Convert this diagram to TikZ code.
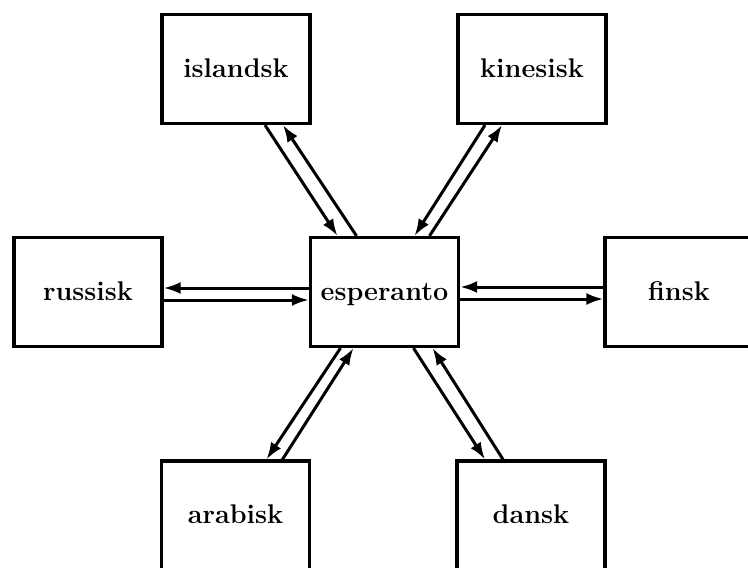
\documentclass[tikz,border=0pt]{standalone}
\usetikzlibrary{arrows.meta}
\begin{document}
\begin{tikzpicture}[x=1pt,y=-1pt,
  box/.style={draw,line width=3.2pt,minimum width=148pt,minimum height=109pt,inner sep=0pt,
    text height=16pt,text depth=0pt,
    font=\fontsize{27}{32}\selectfont\bfseries},
  arr/.style={line width=3pt,-{Latex[length=17pt,width=12pt]}}]
\useasboundingbox (0,0) rectangle (748,568);
\clip (0,0) rectangle (748,568);
\node[box] (isl) at (236,69) {islandsk};
\node[box] (kin) at (532,69) {kinesisk};
\node[box] (rus) at (88,292) {russisk};
\node[box] (esp) at (384.5,292) {esperanto};
\node[box] (fin) at (679,292) {finsk};
\node[box] (ara) at (235.5,515.5) {arabisk};
\node[box] (dan) at (531,515.5) {dansk};
% islandsk
\draw[arr] ([xshift=29pt]isl.south) -- ([xshift=-47pt]esp.north);
\draw[arr] ([xshift=-28pt]esp.north) -- ([xshift=47pt]isl.south);
% kinesisk
\draw[arr] ([xshift=-47pt]kin.south) -- ([xshift=30pt]esp.north);
\draw[arr] ([xshift=45pt]esp.north) -- ([xshift=-30pt]kin.south);
% russisk
\draw[arr] ([yshift=4pt]esp.west) -- ([yshift=4pt]rus.east);
\draw[arr] ([yshift=-8pt]rus.east) -- ([yshift=-8pt]esp.west);
% finsk
\draw[arr] ([yshift=5pt]fin.west) -- ([yshift=5pt]esp.east);
\draw[arr] ([yshift=-7pt]esp.east) -- ([yshift=-7pt]fin.west);
% arabisk
\draw[arr] ([xshift=-44pt]esp.south) -- ([xshift=31pt]ara.north);
\draw[arr] ([xshift=47pt]ara.north) -- ([xshift=-31pt]esp.south);
% dansk
\draw[arr] ([xshift=29pt]esp.south) -- ([xshift=-46pt]dan.north);
\draw[arr] ([xshift=-28pt]dan.north) -- ([xshift=48pt]esp.south);
\end{tikzpicture}
\end{document}
